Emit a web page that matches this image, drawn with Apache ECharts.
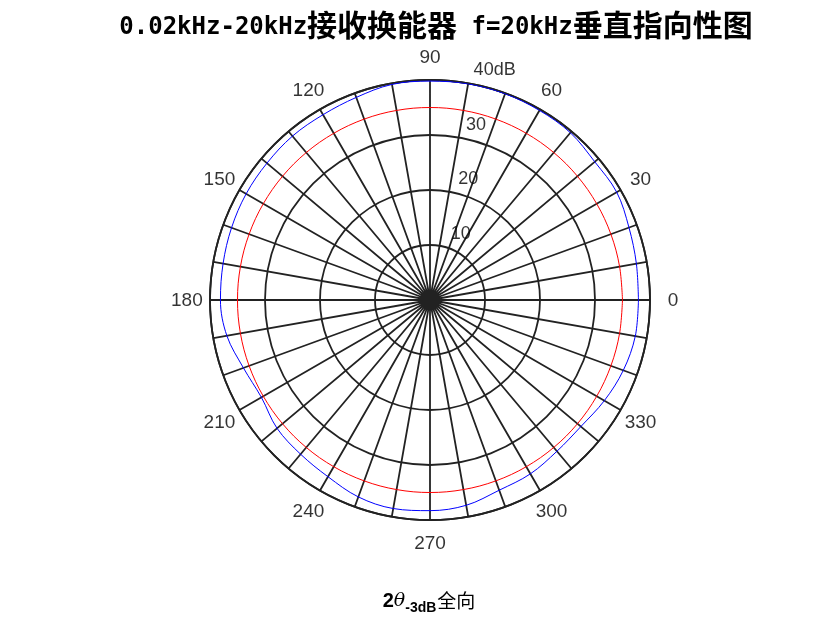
<!DOCTYPE html>
<html>
<head>
<meta charset="utf-8">
<style>
html,body{margin:0;padding:0;background:#fff;}
#chart{width:831px;height:623px;}
</style>
<script src="https://cdn.jsdelivr.net/npm/echarts@6/dist/echarts.min.js"></script>
</head>
<body>
<div id="chart"></div>
<script>
// ---- data ----
const angles = [0,10,20,30,40,50,60,70,80,90,100,110,120,130,140,150,160,170,180,
                190,200,210,220,230,240,250,260,270,280,290,300,310,320,330,340,350,360];
const blueDb = [37.9,38.1,38.5,39.2,39.1,39.7,39.8,39.9,39.9,39.8,39.8,39.2,38.9,38.9,38.7,38.6,38.4,38.2,38.1,
                37.5,36.1,35.4,36.3,36.6,37.1,38.1,38.5,38.3,37.9,36.8,36.5,35.9,35.8,36.6,37.4,37.9,37.9];
const redDb  = [35,35,35,35,35,35,35,35,35,35,35,35,35,35,35,35,35,35,35,
                35,35,35,35,35,35,35,35,35,35,35,35,35,35,35,35,35,35];
const angleTickValues = [0,30,60,90,120,150,180,210,240,270,300,330];
const angleTickLabels = ['0','30','60','90','120','150','180','210','240','270','300','330'];
const radialTickValues = [10,20,30,40];
const radialTickLabels = ['10','20','30','40dB'];
const rMax = 40;
const angleLabelRadius = 44.2;
const radialLabelAngle = 82;

const chart = echarts.init(document.getElementById('chart'), null, {renderer:'canvas'});
const gridColor = '#222222';
const labelFont = 'Liberation Sans, Arial, Helvetica, sans-serif';

const option = {
  backgroundColor: '#fff',
  animation: false,
  title: {
    text: '{a|0.02kHz-20kHz}{b|接收换能器}{a| f=20kHz}{b|垂直指向性图}',
    left: 431,
    textAlign: 'center',
    top: 4,
    textStyle: {
      rich: {
        a: {fontFamily: 'DejaVu Sans Mono, monospace', fontSize: 24, fontWeight: 'bold', color: '#000', padding: [7, 0, 0, 0]},
        b: {fontFamily: 'Noto Sans CJK SC', fontSize: 30, fontWeight: 'bold', color: '#000'}
      }
    }
  },
  polar: {center: [430, 300], radius: 220},
  angleAxis: {
    type: 'value', min: 0, max: 360, interval: 10, startAngle: 0, clockwise: false,
    axisLine: {show: true, lineStyle: {color: gridColor, width: 1.8}},
    axisTick: {show: false},
    axisLabel: {show: false},
    splitLine: {show: true, lineStyle: {color: gridColor, width: 1.8}}
  },
  radiusAxis: {
    type: 'value', min: 0, max: rMax, interval: 10,
    axisLine: {show: false}, axisTick: {show: false}, axisLabel: {show: false},
    splitLine: {show: true, lineStyle: {color: gridColor, width: 1.8}}
  },
  series: [
    {
      type: 'line', coordinateSystem: 'polar', name: 'red',
      data: angles.map((a, i) => [redDb[i], a]),
      showSymbol: false, symbol: 'none', silent: true, smooth: 0.35,
      lineStyle: {color: '#ff0000', width: 1}
    },
    {
      type: 'line', coordinateSystem: 'polar', name: 'blue',
      data: angles.map((a, i) => [blueDb[i], a]),
      showSymbol: false, symbol: 'none', silent: true, smooth: 0.35,
      lineStyle: {color: '#0000ff', width: 1}
    },
    {
      type: 'scatter', coordinateSystem: 'polar', silent: true, clip: false,
      symbolSize: 0,
      data: angleTickValues.map((a, i) => [angleLabelRadius, a, angleTickLabels[i]]),
      label: {
        show: true, position: 'inside', formatter: p => p.value[2], offset: [0, 1],
        fontFamily: labelFont, fontSize: 19, color: '#000'
      }
    },
    {
      type: 'scatter', coordinateSystem: 'polar', silent: true, clip: false,
      symbolSize: 0,
      data: radialTickValues.map((r, i) => [r, radialLabelAngle, radialTickLabels[i]]),
      label: {
        show: true, position: [0, 0], align: 'left', verticalAlign: 'bottom', offset: [13, -3],
        formatter: p => p.value[2],
        fontFamily: labelFont, fontSize: 18, color: '#000'
      }
    }
  ],
  graphic: [{
    type: 'text', x: 429, y: 601,
    style: {
      text: '{n|2}{t|θ}{s|-3dB}{c|全向}',
      align: 'center', verticalAlign: 'middle',
      rich: {
        n: {fontFamily: labelFont, fontSize: 20, fontWeight: 'bold', fill: '#000'},
        t: {fontFamily: 'DejaVu Serif, serif', fontStyle: 'italic', fontSize: 19, fill: '#000'},
        s: {fontFamily: labelFont, fontSize: 14, fontWeight: 'bold', fill: '#000', padding: [14, 1, 0, 0]},
        c: {fontFamily: 'Noto Sans CJK SC', fontSize: 19, fill: '#000'}
      }
    }
  }]
};
chart.setOption(option);
</script>
</body>
</html>
